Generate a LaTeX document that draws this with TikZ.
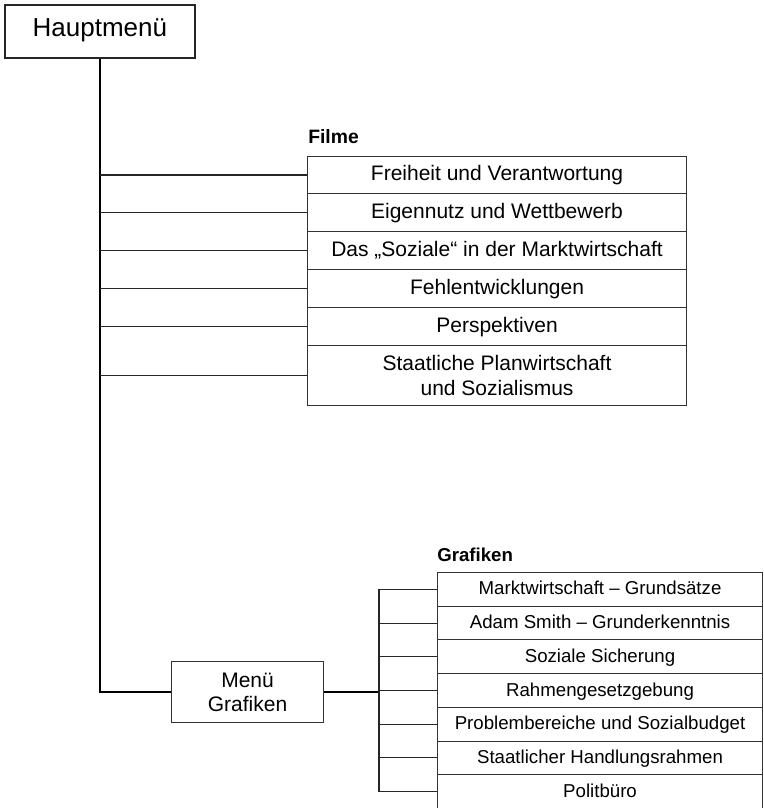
\documentclass[tikz,border=0pt]{standalone}
\usepackage{fontspec}
\setmainfont{Liberation Sans}
\begin{document}
\begin{tikzpicture}[x=0.75pt,y=-0.75pt,
  boxline/.style={draw=black!80, line width=0.8pt},
  conn/.style={draw=black!85, line width=0.8pt},
  trunk/.style={draw=black, line width=1.1pt},
  oneline/.style={text height=0.84em, text depth=0em},
  frowbox/.style={boxline, anchor=north west, inner sep=0pt, minimum width=284.25pt, minimum height=28.4pt, align=center, font=\fontsize{15.75}{18.75}\selectfont},
  growbox/.style={boxline, oneline, anchor=north west, inner sep=0pt, minimum width=243.75pt, minimum height=25.28pt, align=center, font=\fontsize{14}{17}\selectfont},
  lblbox/.style={anchor=base west, inner sep=0pt, font=\bfseries\fontsize{14.5}{17}\selectfont}]
\useasboundingbox (0,0) rectangle (764,808);
% main menu
\node[draw=black!85, line width=1.3pt, anchor=north west, inner sep=0pt, minimum width=142.5pt, minimum height=39.75pt, oneline, font=\fontsize{19.5}{23}\selectfont] (haupt) at (4,4) {Hauptmenü};
% Filme
\node[lblbox] (filmelbl) at (308,143) {Filme};
\node[frowbox, oneline] (f1) at (307,155.5) {Freiheit und Verantwortung};
\node[frowbox, oneline] (f2) at (307,193.4) {Eigennutz und Wettbewerb};
\node[frowbox, oneline] (f3) at (307,231.3) {Das „Soziale“ in der Marktwirtschaft};
\node[frowbox, oneline] (f4) at (307,269.2) {Fehlentwicklungen};
\node[frowbox, oneline] (f5) at (307,307.1) {Perspektiven};
\node[frowbox, minimum height=45pt] (f6) at (307,345) {Staatliche Planwirtschaft\\und Sozialismus};
% Menü Grafiken
\node[boxline, anchor=north west, inner sep=0pt, minimum width=114pt, minimum height=45.75pt, align=center, font=\fontsize{15.75}{18}\selectfont] (menu) at (171,661) {Menü\\Grafiken};
% Grafiken
\node[lblbox, font=\bfseries\fontsize{14}{17}\selectfont] (grafiklbl) at (437,561) {Grafiken};
\node[growbox] (g1) at (437,572) {Marktwirtschaft – Grundsätze};
\node[growbox] (g2) at (437,605.71) {Adam Smith – Grunderkenntnis};
\node[growbox] (g3) at (437,639.42) {Soziale Sicherung};
\node[growbox] (g4) at (437,673.13) {Rahmengesetzgebung};
\node[growbox] (g5) at (437,706.84) {Problembereiche und Sozialbudget};
\node[growbox] (g6) at (437,740.55) {Staatlicher Handlungsrahmen};
\node[growbox] (g7) at (437,774.26) {Politbüro};
% connectors
\coordinate (tk) at (100,57);
\draw[trunk] (haupt.south -| tk) -- (menu.west -| tk) -- (menu.west);
\foreach \i in {1,...,6} {\draw[conn] (f\i.west) -- (f\i.west -| tk);}
\coordinate (bx) at (379,691);
\draw[trunk, line width=1.4pt] (menu.east) -- (menu.east -| bx);
\draw[conn] (g1.west) -- (g1.west -| bx) -- (g7.west -| bx) -- (g7.west);
\foreach \i in {2,...,6} {\draw[conn] (g\i.west) -- (g\i.west -| bx);}
\end{tikzpicture}
\end{document}
